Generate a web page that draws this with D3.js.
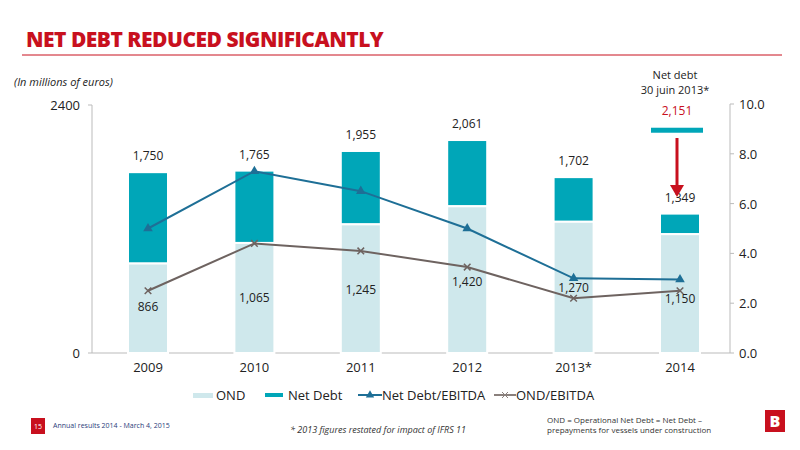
<!DOCTYPE html>
<html><head><meta charset="utf-8">
<script src="https://cdnjs.cloudflare.com/ajax/libs/d3/7.8.5/d3.min.js"></script>
<style>body{margin:0;background:#fff}text{font-family:"Open Sans",Lato,sans-serif}</style>
</head><body><div class="chart"></div>
<script>
var years = ["2009","2010","2011","2012","2013*","2014"]
var netDebt = [1750,1765,1955,2061,1702,1349]
var ond = [866,1065,1245,1420,1270,1150]
var ndEbitda = [5.0,7.3,6.5,5.0,3.0,2.95]
var ondEbitda = [2.5,4.4,4.1,3.45,2.2,2.5]
var ondLabelY = [445,532,610,687,629,522]
var juneDebt = 2151

var width = 800, height = 450
var svg = d3.select(".chart").append("svg").attr("width",width).attr("height",height)

svg.append("text").attr("x",26).attr("y",47).text("NET DEBT REDUCED SIGNIFICANTLY")
	.attr("fill","#c8101e").style("font-size","21px").style("font-weight","900").style("letter-spacing","-0.5px")
svg.append("line").attr("x1",22).attr("x2",782).attr("y1",55).attr("y2",55).attr("stroke","#c8101e").attr("stroke-width",1)
svg.append("text").attr("x",14).attr("y",86).text("(In millions of euros)").style("font-size","11px").style("font-style","italic").attr("fill","#222")

var x = d3.scalePoint().domain(years).range([148,680])
var bw = 40
var y = d3.scaleLinear().domain([0,2400]).range([353,105])
var y2 = d3.scaleLinear().domain([0,10]).range([353,104])

// axes
svg.append("line").attr("x1",92).attr("x2",92).attr("y1",105).attr("y2",353).attr("stroke","#bbb")
svg.append("line").attr("x1",730).attr("x2",730).attr("y1",104).attr("y2",353).attr("stroke","#bbb")
svg.append("line").attr("x1",92).attr("x2",730).attr("y1",353).attr("y2",353).attr("stroke","#bbb")
;[0,2400].forEach(function(v){
	svg.append("text").attr("x",80).attr("y",y(v)+5).attr("text-anchor","end").text(v).style("font-size","13px").attr("fill","#222")
	svg.append("line").attr("x1",88).attr("x2",92).attr("y1",y(v)).attr("y2",y(v)).attr("stroke","#bbb")
})
;[0,2,4,6,8,10].forEach(function(v){
	svg.append("text").attr("x",739).attr("y",y2(v)+5).text(v.toFixed(1)).style("font-size","13px").attr("fill","#222")
	svg.append("line").attr("x1",730).attr("x2",734).attr("y1",y2(v)).attr("y2",y2(v)).attr("stroke","#bbb")
})
years.forEach(function(d){
	svg.append("text").attr("x",x(d)).attr("y",372).attr("text-anchor","middle").text(d).style("font-size","13px").attr("fill","#222")
})

var fmt = d3.format(",")
// bars
svg.selectAll(".nd").data(years).enter().append("rect")
	.attr("x",function(d){return x(d)-bw/2}).attr("width",bw)
	.attr("y",function(d,i){return y(netDebt[i])}).attr("height",function(d,i){return y(ond[i])-y(netDebt[i])})
	.attr("fill","#00a6b8").attr("stroke","#fff").attr("stroke-width",2)
svg.selectAll(".ond").data(years).enter().append("rect")
	.attr("x",function(d){return x(d)-bw/2}).attr("width",bw)
	.attr("y",function(d,i){return y(ond[i])}).attr("height",function(d,i){return y(0)-y(ond[i])})
	.attr("fill","#cfe8ec").attr("stroke","#fff").attr("stroke-width",2)
svg.selectAll(".ndl").data(years).enter().append("text")
	.attr("x",function(d){return x(d)}).attr("y",function(d,i){return y(netDebt[i])-12})
	.attr("text-anchor","middle").text(function(d,i){return fmt(netDebt[i])}).style("font-size","12px").attr("fill","#222")
svg.selectAll(".ondl").data(years).enter().append("text")
	.attr("x",function(d){return x(d)}).attr("y",function(d,i){return y(ondLabelY[i])+4})
	.attr("text-anchor","middle").text(function(d,i){return fmt(ond[i])}).style("font-size","12px").attr("fill","#222")

// lines
var cx = function(d,i){return x(years[i])}
var l1 = d3.line().x(cx).y(function(d){return y2(d)})
svg.append("path").attr("d",l1(ndEbitda)).attr("fill","none").attr("stroke","#1e6f96").attr("stroke-width",2)
svg.selectAll(".tri").data(ndEbitda).enter().append("path")
	.attr("d",d3.symbol().type(d3.symbolTriangle).size(40))
	.attr("transform",function(d,i){return "translate("+cx(d,i)+","+y2(d)+")"}).attr("fill","#1e6f96")
svg.append("path").attr("d",l1(ondEbitda)).attr("fill","none").attr("stroke","#6e6360").attr("stroke-width",2)
svg.selectAll(".crs").data(ondEbitda).enter().append("path")
	.attr("d",d3.symbol().type(d3.symbolX).size(30))
	.attr("transform",function(d,i){return "translate("+cx(d,i)+","+y2(d)+")"}).attr("fill","none").attr("stroke","#6e6360").attr("stroke-width",1.5)

// june 2013 marker
var jx = x("2014")
svg.append("rect").attr("x",jx-29).attr("width",52).attr("y",y(juneDebt)-3).attr("height",5).attr("fill","#00a6b8")
svg.append("text").attr("x",jx-3).attr("y",y(juneDebt)-16).attr("text-anchor","middle").text(fmt(juneDebt)).style("font-size","12px").attr("fill","#c8101e")
svg.append("text").attr("x",jx-5).attr("y",79).attr("text-anchor","middle").text("Net debt").style("font-size","11px").attr("fill","#222")
svg.append("text").attr("x",jx-5).attr("y",94).attr("text-anchor","middle").text("30 juin 2013*").style("font-size","11px").attr("fill","#222")
svg.append("line").attr("x1",jx-3).attr("x2",jx-3).attr("y1",138).attr("y2",186).attr("stroke","#c8101e").attr("stroke-width",3)
svg.append("path").attr("d","M"+(jx-10)+",185 L"+(jx+4)+",185 L"+(jx-3)+",197 Z").attr("fill","#c8101e")

// legend
var lg = svg.append("g").style("font-size","13px")
lg.append("rect").attr("x",193).attr("y",393).attr("width",20).attr("height",5).attr("fill","#cfe8ec")
lg.append("text").attr("x",216).attr("y",400).text("OND").attr("fill","#222")
lg.append("rect").attr("x",265).attr("y",393).attr("width",18).attr("height",4).attr("fill","#00a6b8")
lg.append("text").attr("x",288).attr("y",400).text("Net Debt").attr("fill","#222")
lg.append("line").attr("x1",358).attr("x2",382).attr("y1",395).attr("y2",395).attr("stroke","#1e6f96").attr("stroke-width",2)
lg.append("path").attr("d",d3.symbol().type(d3.symbolTriangle).size(30)).attr("transform","translate(370,395)").attr("fill","#1e6f96")
lg.append("text").attr("x",382).attr("y",400).text("Net Debt/EBITDA").attr("fill","#222")
lg.append("line").attr("x1",494).attr("x2",516).attr("y1",395).attr("y2",395).attr("stroke","#8a807c").attr("stroke-width",2)
lg.append("path").attr("d",d3.symbol().type(d3.symbolX).size(25)).attr("transform","translate(505,395)").attr("fill","none").attr("stroke","#8a807c")
lg.append("text").attr("x",516).attr("y",400).text("OND/EBITDA").attr("fill","#222")

// footer
svg.append("rect").attr("x",31).attr("y",418).attr("width",14).attr("height",16).attr("fill","#c8101e")
svg.append("text").attr("x",38).attr("y",429).attr("text-anchor","middle").text("15").style("font-size","7px").attr("fill","#fff")
svg.append("text").attr("x",53).attr("y",428).text("Annual results 2014 - March 4, 2015").style("font-size","7px").attr("fill","#2a3c7a")
svg.append("text").attr("x",290).attr("y",433).text("* 2013 figures restated for impact of IFRS 11").style("font-size","9px").style("font-style","italic").attr("fill","#333")
svg.append("text").attr("x",547).attr("y",423).text("OND = Operational Net Debt = Net Debt –").style("font-size","8px").attr("fill","#333")
svg.append("text").attr("x",547).attr("y",433).text("prepayments for vessels under construction").style("font-size","8px").attr("fill","#333")
svg.append("rect").attr("x",765).attr("y",410).attr("width",20).attr("height",22).attr("fill","#c8101e")
svg.append("text").attr("x",775).attr("y",427).attr("text-anchor","middle").text("B").style("font-size","16px").style("font-weight","900").attr("fill","#fff")
</script></body></html>
